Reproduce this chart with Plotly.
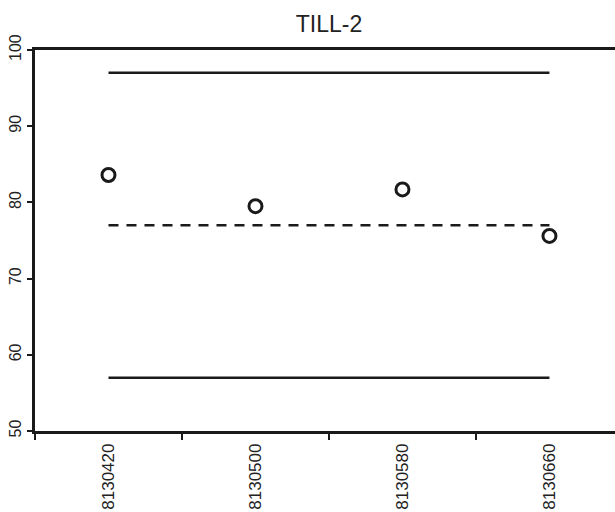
import plotly.graph_objects as go

categories = ["8130420", "8130500", "8130580", "8130660"]
values = [83.6, 79.5, 81.7, 75.6]
mean_value = 77.0
upper_limit = 97.0
lower_limit = 57.0
y_ticks = [50, 60, 70, 80, 90, 100]

x_range = [-0.5, 3.446]
ink = "#1a1a1a"
font_family = "Liberation Sans, Arial, sans-serif"

fig = go.Figure()

fig.add_trace(go.Scatter(
    x=categories, y=[upper_limit] * len(categories), mode="lines",
    line=dict(color=ink, width=2.5), hoverinfo="skip"))
fig.add_trace(go.Scatter(
    x=categories, y=[lower_limit] * len(categories), mode="lines",
    line=dict(color=ink, width=2.5), hoverinfo="skip"))
fig.add_trace(go.Scatter(
    x=categories, y=[mean_value] * len(categories), mode="lines",
    line=dict(color=ink, width=2.5, dash="10px,8px"), hoverinfo="skip"))
fig.add_trace(go.Scatter(
    x=categories, y=values, mode="markers",
    marker=dict(symbol="circle-open", size=13, color=ink, line=dict(width=3, color=ink))))

title_x = (1.5 - x_range[0]) / (x_range[1] - x_range[0])

fig.update_layout(
    width=615, height=512,
    margin=dict(l=35, r=0, t=50, b=81),
    paper_bgcolor="white", plot_bgcolor="white",
    showlegend=False,
    font=dict(family=font_family, size=16, color="#222222"),
    title=dict(text="TILL-2", x=title_x, xref="paper", xanchor="center",
               y=1 - 24 / 512, yref="container", yanchor="middle",
               font=dict(size=23, color="#222222", family=font_family)),
    xaxis=dict(
        type="category", categoryorder="array", categoryarray=categories,
        range=x_range, tickson="boundaries", automargin=False,
        showline=True, linecolor=ink, linewidth=2.5, mirror=True,
        ticks="outside", ticklen=6, tickwidth=2, tickcolor=ink,
        tickangle=-90, showgrid=False, zeroline=False, ticklabelstandoff=3,
        tickfont=dict(size=17, color="#222222")),
    yaxis=dict(
        range=[50, 100], tickvals=y_ticks, automargin=False,
        showline=True, linecolor=ink, linewidth=2.5,
        ticks="outside", ticklen=5, tickwidth=2, tickcolor=ink,
        tickangle=-90, showgrid=False, zeroline=False,
        tickfont=dict(size=16, color="#222222")),
)

fig.write_html("out.html", config={"displayModeBar": False},
               post_script="document.body.style.margin='0';document.body.style.overflow='hidden';")
